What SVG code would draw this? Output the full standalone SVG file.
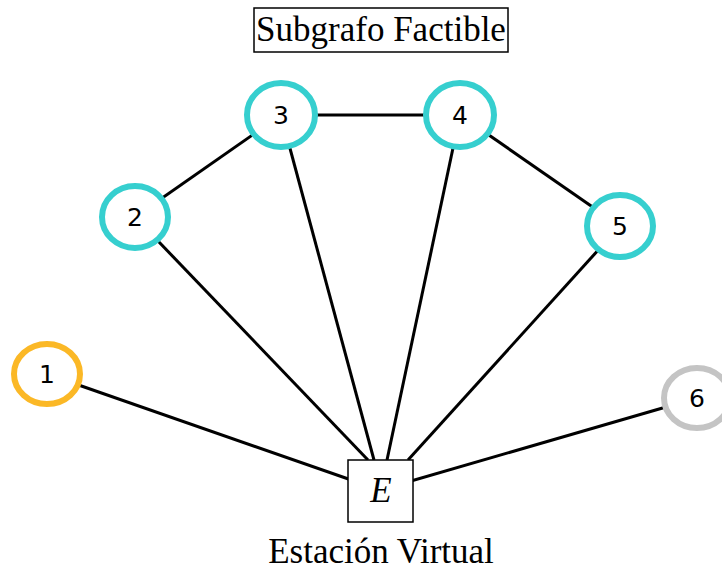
<svg xmlns="http://www.w3.org/2000/svg" width="722" height="571" viewBox="0 0 722 571">
<style>
.edge{stroke:#000;stroke-width:3;fill:none}
.node{fill:#fff;stroke-width:6}
.teal{stroke:#36CFCF}
.orange{stroke:#FBB826}
.gray{stroke:#C4C4C4}
.lbl{font-family:"DejaVu Sans",sans-serif;font-size:25px;fill:#000;text-anchor:middle}
.serif{font-family:"Liberation Serif",serif;font-size:35px;fill:#000;text-anchor:middle}
</style>
<rect width="722" height="571" fill="#fff"/>
<g id="connectors">
<line class="edge" x1="47" y1="374" x2="380" y2="490"/>
<line class="edge" x1="697" y1="398" x2="380" y2="490"/>
<line class="edge" x1="135" y1="217" x2="281" y2="115"/>
<line class="edge" x1="135" y1="217" x2="368" y2="460"/>
<line class="edge" x1="281" y1="115" x2="374" y2="460"/>
<line class="edge" x1="281" y1="115" x2="460" y2="115"/>
<line class="edge" x1="460" y1="115" x2="387" y2="460"/>
<line class="edge" x1="460" y1="115" x2="620" y2="226"/>
<line class="edge" x1="620" y1="226" x2="408" y2="460"/>
</g>
<g id="title">
<rect x="254" y="8" width="254" height="44" fill="#fff" stroke="#000" stroke-width="1.5"/>
<text class="serif" x="381" y="41">Subgrafo Factible</text>
</g>
<g id="n1"><ellipse class="node orange" cx="47" cy="374" rx="33" ry="30"/><text class="lbl" x="47" y="383">1</text></g>
<g id="n2"><ellipse class="node teal" cx="135" cy="217" rx="33" ry="31"/><text class="lbl" x="135" y="226">2</text></g>
<g id="n3"><ellipse class="node teal" cx="281" cy="115" rx="34" ry="32"/><text class="lbl" x="281" y="124">3</text></g>
<g id="n4"><ellipse class="node teal" cx="460" cy="115" rx="34" ry="32"/><text class="lbl" x="460" y="124">4</text></g>
<g id="n5"><ellipse class="node teal" cx="620" cy="226" rx="33" ry="31"/><text class="lbl" x="620" y="235">5</text></g>
<g id="n6"><ellipse class="node gray" cx="697" cy="398" rx="33" ry="30"/><text class="lbl" x="697" y="407">6</text></g>
<g id="E">
<rect x="348" y="460" width="65" height="62" fill="#fff" stroke="#000" stroke-width="1.5"/>
<text class="serif" x="381" y="502" font-style="italic">E</text>
<text class="serif" x="381" y="563">Estación Virtual</text>
</g>
</svg>
